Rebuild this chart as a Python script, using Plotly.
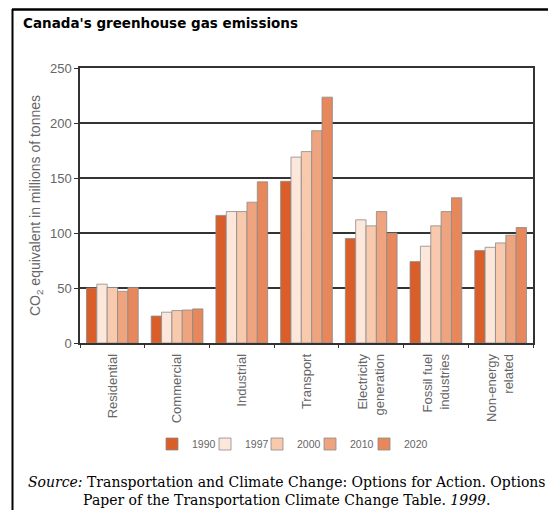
import plotly.graph_objects as go

categories = ["Residential", "Commercial", "Industrial", "Transport",
              "Electricity<br>generation", "Fossil fuel<br>industries", "Non-energy<br>related"]
years = ["1990", "1997", "2000", "2010", "2020"]
v1990 = [50, 24.5, 116, 147, 95, 74, 84]
v1997 = [53.5, 28, 119.5, 169, 112, 88, 87]
v2000 = [50.5, 29.5, 119.5, 174, 106.5, 106.5, 91]
v2010 = [47, 30, 128, 193, 119.5, 119.5, 98]
v2020 = [50.5, 31, 146.5, 223.5, 100, 132, 105]
series = [v1990, v1997, v2000, v2010, v2020]
colors = ["#DA5E2A", "#FDE6DA", "#F8C9AC", "#EEA47E", "#E6875C"]
y_ticks = [0, 50, 100, 150, 200, 250]

W, H = 548, 510
L, R, T, B = 80, 15, 68, 167
pw, ph = W - L - R, H - T - B

def px_x(x):
    return (x - L) / pw

def px_y(y):
    return (H - B - y) / ph

legend_names = ["legend", "legend2", "legend3", "legend4", "legend5"]
legend_sym_x = [172, 225, 277, 330, 384]

fig = go.Figure()
for name, vals, col, lg in zip(years, series, colors, legend_names):
    fig.add_trace(go.Bar(
        x=categories, y=vals, name=name, legend=lg,
        marker=dict(color=col, line=dict(color="#8a8a8a", width=0.8)),
    ))

legend_layout = {}
for lg, sx in zip(legend_names, legend_sym_x):
    legend_layout[lg] = dict(
        orientation="h", x=px_x(sx - 20), xanchor="left", y=px_y(444), yanchor="middle",
        font=dict(size=10.5, color="#666666"), itemwidth=30, bgcolor="rgba(0,0,0,0)",
    )

fig.update_layout(
    width=W, height=H,
    margin=dict(l=L, r=R, t=T, b=B),
    paper_bgcolor="white", plot_bgcolor="white",
    barmode="group", bargap=0.2, bargroupgap=0,
    font=dict(family="Arial, Liberation Sans, sans-serif", color="#666666", size=12),
    showlegend=True,
    **legend_layout,
    xaxis=dict(
        tickangle=-90, showline=True, linecolor="#333333", linewidth=1.5, mirror=True,
        ticks="outside", ticklen=3, tickcolor="#333333", tickson="boundaries",
        ticklabelstandoff=4,
        tickfont=dict(size=13, color="#666666"), showgrid=False,
    ),
    yaxis=dict(
        range=[0, 250], tickvals=y_ticks, showline=True, linecolor="#333333", linewidth=1.5,
        mirror=True, ticks="outside", ticklen=4, tickcolor="#333333",
        showgrid=True, gridcolor="#333333", gridwidth=1.5,
        tickfont=dict(size=13, color="#666666"),
        title=dict(text="CO<sub>2</sub> equivalent in millions of tonnes",
                   font=dict(size=14, color="#666666"), standoff=6),
    ),
    shapes=[
        dict(type="line", xref="paper", yref="paper", x0=px_x(12), x1=px_x(548),
             y0=px_y(9.5), y1=px_y(9.5), line=dict(color="black", width=2.5)),
        dict(type="line", xref="paper", yref="paper", x0=px_x(12.5), x1=px_x(12.5),
             y0=px_y(9), y1=px_y(510), line=dict(color="black", width=2)),
    ],
    annotations=[
        dict(text="<b>Canada's greenhouse gas emissions</b>", xref="paper", yref="paper",
             x=px_x(21), y=px_y(23), xanchor="left", yanchor="middle", showarrow=False,
             font=dict(family="DejaVu Sans", size=13.5, color="black")),
        dict(text="<i>Source:</i> Transportation and Climate Change: Options for Action. Options<br>"
                  "Paper of the Transportation Climate Change Table. <i>1999</i>.",
             xref="paper", yref="paper", x=px_x(287), y=px_y(491), xanchor="center",
             yanchor="middle", showarrow=False, align="center",
             font=dict(family="DejaVu Serif", size=14, color="black")),
    ],
)

fig.write_html("out.html")
